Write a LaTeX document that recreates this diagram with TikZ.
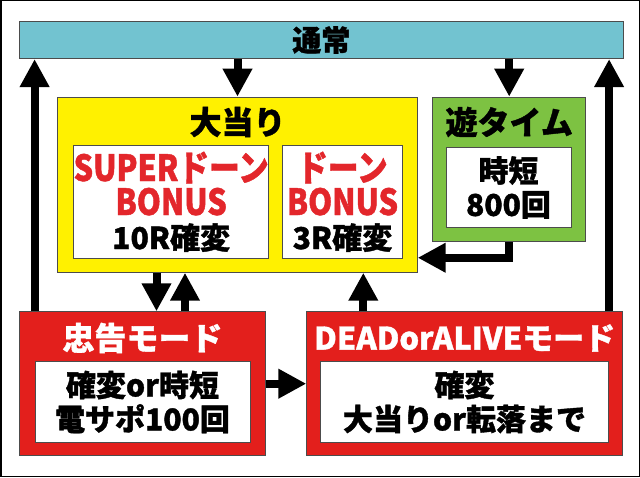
\documentclass[tikz,border=0pt]{standalone}
\usepackage{fontspec}
\newfontfamily\jp{Noto Sans CJK JP}[BoldFeatures={FakeBold=1.2}]
\newfontfamily\jpc{Noto Sans CJK JP}[FakeStretch=0.85,BoldFeatures={FakeBold=1.2}]
\usetikzlibrary{arrows.meta,positioning}
\definecolor{tsujoblue}{HTML}{72C3D0}
\definecolor{oayellow}{HTML}{FFF100}
\definecolor{yugreen}{HTML}{7DC242}
\definecolor{modered}{HTML}{E31F1C}
\definecolor{bonusred}{HTML}{E3262B}
\newcommand\fsz[1]{\fontsize{#1}{#1}\selectfont}
\newcommand\bon[1]{{\jpc\bfseries\fontsize{36}{33}\selectfont\color{bonusred}#1}}
\tikzset{
  box/.style={draw=black!70,line width=0.8pt,inner sep=0pt,align=center},
  inbox/.style={box,fill=white,font=\jp\bfseries\fontsize{30}{34}\selectfont},
  ttl/.style={font=\jp\bfseries\fsz{32},inner sep=0pt},
  arr/.style={-{Triangle[length=28pt,width=28pt]},line width=8pt},
}
\begin{document}
\begin{tikzpicture}[x=1pt,y=-1pt]
\useasboundingbox (0,0) rectangle (640,478);
\draw[line width=1.5pt] (0.75,0.75) rectangle (639.25,476.5);
% top bar
\node[box,fill=tsujoblue,minimum width=604pt,minimum height=37.4pt,font=\jp\bfseries\fsz{29}] (tsujo) at (321.3,40) {通常};
% jackpot block
\node[box,fill=oayellow,minimum width=359.6pt,minimum height=175.3pt] (oatari) at (237.5,184.7) {};
\node[ttl] (oatitle) at (237.5,122) {大当り};
\node[inbox,minimum width=194.3pt,minimum height=113pt] (super) at (171.2,201.8)
  {\bon{SUPERドーン}\\\bon{BONUS}\\10R確変};
\node[inbox,minimum width=120.4pt,minimum height=113pt] (doon) at (342.5,201.8)
  {\bon{ドーン}\\\bon{BONUS}\\3R確変};
% yutime block
\node[box,fill=yugreen,minimum width=153pt,minimum height=144.7pt] (yutime) at (509.2,169.4) {};
\node[ttl] (yutitle) at (509.2,122) {遊タイム};
\node[inbox,minimum width=125pt,minimum height=79.6pt] (jitan) at (508.5,187.5) {時短\\800回};
% modes
\node[box,fill=modered,minimum width=246.4pt,minimum height=144pt] (chukoku) at (142.5,383.7) {};
\node[ttl,text=white] (chtitle) at (142.5,338) {忠告モード};
\node[inbox,minimum width=215pt,minimum height=80.6pt] (chin) at (142.5,402) {確変or時短\\電サポ100回};
\node[box,fill=modered,minimum width=316pt,minimum height=144pt] (dead) at (464.7,383.7) {};
\node[ttl,text=white,font=\jp\bfseries\fsz{31}] (dtitle) at (464.7,338) {DEADorALIVEモード};
\node[inbox,minimum width=287.6pt,minimum height=80.6pt] (din) at (464.5,402) {確変\\大当りor転落まで};
% arrows
\coordinate (lt) at ([xshift=15.7pt]chukoku.north west);
\coordinate (rt) at ([xshift=-14pt]dead.north east);
\coordinate (dn) at ([xshift=14pt]chukoku.north);
\coordinate (up) at ([xshift=42.5pt]chukoku.north);
\coordinate (du) at ([xshift=-101.4pt]dead.north);
\coordinate (el) at ([yshift=15pt]oatari.south east);
\draw[arr] (lt) -- (lt |- tsujo.south);
\draw[arr] (rt) -- (rt |- tsujo.south);
\draw[arr] (tsujo.south -| oatari.north) -- (oatari.north);
\draw[arr] (tsujo.south -| yutime.north) -- (yutime.north);
\draw[arr] (dn |- oatari.south) -- (dn);
\draw[arr] (up) -- (up |- oatari.south);
\draw[arr] (du) -- (du |- oatari.south);
\draw[arr] (yutime.south) |- (el);
\draw[arr] (chukoku.east) -- (dead.west);
\end{tikzpicture}
\end{document}
